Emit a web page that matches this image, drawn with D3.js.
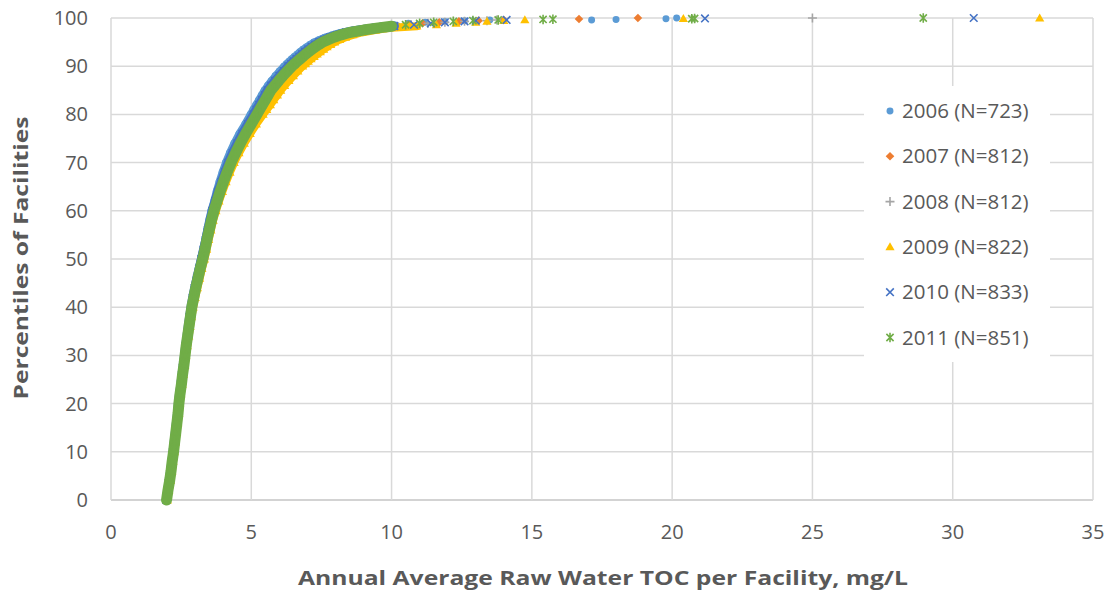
<!DOCTYPE html>
<html>
<head>
<meta charset="utf-8">
<script src="https://cdn.jsdelivr.net/npm/d3@7"></script>
<style>
	body { margin: 0; background: #fff; }
	text { font-family: "Open Sans", sans-serif; fill: #595959; }
</style>
</head>
<body>
<script>
// percentile levels the TOC values were read at
const pctLevels = [0, 2, 4, 6, 8, 10, 12, 14, 16, 18, 20, 22, 24, 26, 28, 30, 32, 34, 36, 38,
	40, 42, 44, 46, 48, 50, 52, 54, 56, 58, 60, 62, 64, 66, 68, 70, 72, 74, 76, 78, 80,
	81, 82, 83, 84, 85, 86, 87, 88, 89, 90,
	90.5, 91, 91.5, 92, 92.5, 93, 93.5, 94, 94.5, 95, 95.5, 96, 96.5, 97, 97.5, 98,
	98.3, 98.6, 98.9, 99.1, 99.3, 99.45, 99.6];
// above this percentile the facilities thin out into single markers
const bandTop = 98.3;

const toc2006 = [1.95, 2.00, 2.06, 2.11, 2.15, 2.20, 2.24, 2.28, 2.32, 2.36,
	2.39, 2.43, 2.47, 2.51, 2.56, 2.60, 2.64, 2.69, 2.73, 2.78,
	2.83, 2.89, 2.96, 3.03, 3.11, 3.19, 3.27, 3.34, 3.41, 3.48,
	3.56, 3.66, 3.75, 3.85, 3.96, 4.08, 4.22, 4.38, 4.56, 4.77, 4.96,
	5.06, 5.16, 5.26, 5.36, 5.46, 5.58, 5.71, 5.85, 6.00, 6.16,
	6.25, 6.34, 6.43, 6.53, 6.63, 6.73, 6.84, 6.96, 7.09, 7.23, 7.41, 7.62, 7.88, 8.18, 8.62, 9.20,
	9.6, 10.1, 10.6, 11.2, 11.9, 12.6, 13.5];
const toc2007 = [1.99, 2.04, 2.09, 2.13, 2.18, 2.22, 2.27, 2.31, 2.35, 2.38,
	2.42, 2.46, 2.50, 2.55, 2.59, 2.63, 2.68, 2.72, 2.77, 2.82,
	2.87, 2.94, 3.01, 3.09, 3.17, 3.25, 3.33, 3.41, 3.49, 3.57,
	3.66, 3.76, 3.87, 3.99, 4.12, 4.26, 4.41, 4.58, 4.76, 4.96, 5.16,
	5.26, 5.36, 5.46, 5.56, 5.67, 5.80, 5.94, 6.09, 6.25, 6.41,
	6.51, 6.61, 6.71, 6.81, 6.92, 7.03, 7.15, 7.27, 7.41, 7.56, 7.75, 7.97, 8.24, 8.56, 9.05, 9.65,
	10.1, 10.6, 11.1, 11.7, 12.4, 13.1, 14.0];
const toc2008 = [2.00, 2.05, 2.10, 2.15, 2.19, 2.24, 2.28, 2.32, 2.36, 2.40,
	2.44, 2.48, 2.52, 2.57, 2.61, 2.66, 2.70, 2.75, 2.80, 2.85,
	2.90, 2.97, 3.04, 3.12, 3.20, 3.29, 3.37, 3.45, 3.53, 3.61,
	3.70, 3.80, 3.92, 4.04, 4.17, 4.31, 4.47, 4.64, 4.83, 5.03, 5.23,
	5.33, 5.43, 5.53, 5.64, 5.75, 5.88, 6.02, 6.17, 6.33, 6.50,
	6.60, 6.70, 6.80, 6.90, 7.01, 7.12, 7.24, 7.37, 7.51, 7.66, 7.86, 8.08, 8.35, 8.68, 9.18, 9.80,
	10.2, 10.7, 11.3, 11.9, 12.6, 13.4, 13.75];
const toc2009 = [2.01, 2.06, 2.12, 2.17, 2.21, 2.26, 2.30, 2.34, 2.38, 2.42,
	2.45, 2.49, 2.54, 2.58, 2.63, 2.67, 2.72, 2.77, 2.82, 2.87,
	2.93, 3.00, 3.08, 3.16, 3.24, 3.33, 3.41, 3.48, 3.56, 3.64,
	3.74, 3.85, 3.97, 4.10, 4.24, 4.39, 4.56, 4.75, 4.96, 5.18, 5.42,
	5.55, 5.68, 5.80, 5.93, 6.05, 6.19, 6.34, 6.50, 6.66, 6.83,
	6.93, 7.03, 7.13, 7.24, 7.35, 7.46, 7.58, 7.70, 7.83, 7.97, 8.15, 8.36, 8.62, 8.93, 9.42, 10.0,
	10.9, 11.6, 12.3, 13.0, 13.4, 14.0, 14.75];
const toc2010 = [1.97, 2.02, 2.07, 2.12, 2.17, 2.21, 2.25, 2.29, 2.33, 2.37,
	2.40, 2.44, 2.49, 2.53, 2.57, 2.62, 2.66, 2.71, 2.75, 2.80,
	2.85, 2.91, 2.98, 3.06, 3.14, 3.22, 3.30, 3.38, 3.45, 3.53,
	3.61, 3.71, 3.81, 3.93, 4.05, 4.18, 4.33, 4.50, 4.68, 4.88, 5.08,
	5.18, 5.28, 5.38, 5.48, 5.58, 5.71, 5.85, 6.00, 6.16, 6.32,
	6.42, 6.51, 6.61, 6.71, 6.81, 6.92, 7.03, 7.15, 7.28, 7.42, 7.60, 7.81, 8.06, 8.36, 8.85, 9.45,
	10.1, 10.8, 11.4, 11.9, 12.6, 13.0, 14.1];
const toc2011 = [1.98, 2.03, 2.09, 2.14, 2.18, 2.23, 2.27, 2.31, 2.35, 2.39,
	2.42, 2.46, 2.51, 2.55, 2.60, 2.64, 2.68, 2.73, 2.78, 2.83,
	2.88, 2.95, 3.02, 3.10, 3.18, 3.27, 3.35, 3.42, 3.50, 3.58,
	3.67, 3.78, 3.89, 4.01, 4.14, 4.28, 4.44, 4.61, 4.80, 5.00, 5.20,
	5.30, 5.40, 5.50, 5.60, 5.70, 5.84, 5.98, 6.13, 6.29, 6.45,
	6.55, 6.64, 6.74, 6.84, 6.94, 7.05, 7.16, 7.28, 7.41, 7.55, 7.74, 7.95, 8.20, 8.50, 9.00, 9.60,
	10.0, 10.5, 11.0, 11.5, 12.2, 12.9, 13.8];

// highest facilities of each year: [TOC, percentile]
const tail2006 = [[17.13, 99.6], [18.0, 99.7], [19.78, 99.85], [20.16, 100]];
const tail2007 = [[16.68, 99.8], [18.78, 100]];
const tail2008 = [[25.0, 100]];
const tail2009 = [[20.4, 99.9], [33.1, 100]];
const tail2010 = [[21.17, 99.9], [30.75, 100]];
const tail2011 = [[15.4, 99.7], [15.75, 99.75], [20.7, 99.85], [20.8, 99.9], [28.95, 100]];

const seriesNames = ['2006 (N=723)', '2007 (N=812)', '2008 (N=812)', '2009 (N=822)', '2010 (N=833)', '2011 (N=851)'];
const xTicks = [0, 5, 10, 15, 20, 25, 30, 35];
const yTicks = [0, 10, 20, 30, 40, 50, 60, 70, 80, 90, 100];

const svgSize = {width: 1114, height: 592};
const plot = {left: 111, right: 1093, top: 18, bottom: 500};

const svg = d3.select('body').append('svg')
	.attr('width', svgSize.width)
	.attr('height', svgSize.height);

const x = d3.scaleLinear().domain([0, 35]).range([plot.left, plot.right]);
const y = d3.scaleLinear().domain([0, 100]).range([plot.bottom, plot.top]);

// gridlines
svg.append('g').selectAll('line').data(yTicks).enter().append('line')
	.attr('x1', plot.left).attr('x2', plot.right)
	.attr('y1', d => y(d)).attr('y2', d => y(d))
	.attr('stroke', d => d === 0 ? '#C4C4C4' : '#D9D9D9')
	.attr('stroke-width', 1.5);
svg.append('g').selectAll('line').data(xTicks).enter().append('line')
	.attr('y1', plot.top).attr('y2', plot.bottom)
	.attr('x1', d => x(d)).attr('x2', d => x(d))
	.attr('stroke', '#D9D9D9')
	.attr('stroke-width', 1.5);

// tick labels
svg.append('g').selectAll('text').data(yTicks).enter().append('text')
	.attr('x', 88).attr('y', d => y(d))
	.attr('dy', '0.35em')
	.style('text-anchor', 'end')
	.style('font-size', '20px')
	.text(d => d);
svg.append('g').selectAll('text').data(xTicks).enter().append('text')
	.attr('x', d => x(d)).attr('y', 532)
	.attr('dy', '0.35em')
	.style('text-anchor', 'middle')
	.style('font-size', '20px')
	.text(d => d);

// axis titles
svg.append('text')
	.attr('x', 603).attr('y', 578)
	.attr('dy', '0.35em')
	.style('text-anchor', 'middle')
	.style('font-size', '20px')
	.style('font-weight', 'bold')
	.attr('textLength', 610)
	.attr('lengthAdjust', 'spacingAndGlyphs')
	.text('Annual Average Raw Water TOC per Facility, mg/L');
svg.append('text')
	.attr('transform', 'translate(21, 258) rotate(-90)')
	.attr('dy', '0.35em')
	.style('text-anchor', 'middle')
	.style('font-size', '20px')
	.style('font-weight', 'bold')
	.attr('textLength', 283)
	.attr('lengthAdjust', 'spacingAndGlyphs')
	.text('Percentiles of Facilities');

// marker shapes
function markerPath(shape) {
	switch (shape) {
		case 'circle': return d3.symbol(d3.symbolCircle, 38)();
		case 'diamond': return 'M0,-4.3L4.3,0L0,4.3L-4.3,0Z';
		case 'plus': return 'M-4.5,0H4.5M0,-4.5V4.5';
		case 'triangle': return 'M0,-4.6L4.6,3.4L-4.6,3.4Z';
		case 'x': return 'M-3.8,-3.8L3.8,3.8M-3.8,3.8L3.8,-3.8';
		case 'star': return 'M-3.6,-3.6L3.6,3.6M-3.6,3.6L3.6,-3.6M0,-4.8V4.8';
	}
}
const filled = {circle: true, diamond: true, triangle: true, plus: false, x: false, star: false};

const series = [
	{name: seriesNames[0], values: toc2006, tail: tail2006, color: '#5B9BD5', shape: 'circle', band: 7},
	{name: seriesNames[1], values: toc2007, tail: tail2007, color: '#ED7D31', shape: 'diamond', band: 8},
	{name: seriesNames[2], values: toc2008, tail: tail2008, color: '#A5A5A5', shape: 'plus', band: 8},
	{name: seriesNames[3], values: toc2009, tail: tail2009, color: '#FFC000', shape: 'triangle', band: 8},
	{name: seriesNames[4], values: toc2010, tail: tail2010, color: '#4472C4', shape: 'x', band: 9},
	{name: seriesNames[5], values: toc2011, tail: tail2011, color: '#70AD47', shape: 'star', band: 11}
];

const bandLine = d3.line().x(d => x(d[0])).y(d => y(d[1]));

function styleMarker(sel, s) {
	if (filled[s.shape]) {
		sel.attr('fill', s.color).attr('stroke', 'none');
	} else {
		sel.attr('fill', 'none').attr('stroke', s.color).attr('stroke-width', 1.6);
	}
}

series.forEach(s => {
	const pts = pctLevels.map((p, i) => [s.values[i], p]);
	const g = svg.append('g').attr('class', 'series');
	// the dense run of markers reads as a solid band
	g.append('path')
		.attr('d', bandLine(pts.filter(d => d[1] <= bandTop)))
		.attr('fill', 'none')
		.attr('stroke', s.color)
		.attr('stroke-width', s.band)
		.attr('stroke-linecap', 'round')
		.attr('stroke-linejoin', 'round');
	g.selectAll('path.marker')
		.data(pts.concat(s.tail))
		.enter()
		.append('path')
		.attr('class', 'marker')
		.attr('d', markerPath(s.shape))
		.attr('transform', d => `translate(${x(d[0])}, ${y(d[1])})`)
		.call(styleMarker, s);
});

// legend
const legend = svg.append('g');
legend.append('rect')
	.attr('x', 864).attr('y', 86)
	.attr('width', 186).attr('height', 276)
	.attr('fill', '#fff');
const item = legend.selectAll('g.item').data(series).enter().append('g')
	.attr('class', 'item')
	.attr('transform', (d, i) => `translate(890, ${111 + i * 45.3})`);
item.append('path')
	.attr('d', d => markerPath(d.shape))
	.each(function(d) { d3.select(this).call(styleMarker, d); });
item.append('text')
	.attr('x', 12)
	.attr('dy', '0.35em')
	.style('font-size', '20.5px')
	.text(d => d.name);
</script>
</body>
</html>
